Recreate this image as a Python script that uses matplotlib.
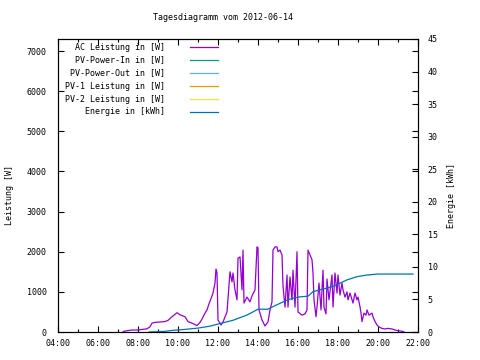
import matplotlib
matplotlib.use("Agg")
import matplotlib.pyplot as plt
from matplotlib.lines import Line2D
from matplotlib.ticker import FixedLocator

# AC power (hour of day, watts)
power_hours = [7.25, 7.30, 7.70, 8.00, 8.45, 8.60, 8.70, 8.85, 9.10, 9.35, 9.50, 9.70,
               9.95, 10.10, 10.35, 10.50, 10.70, 10.95, 11.10, 11.20, 11.35, 11.45, 11.55,
               11.70, 11.75, 11.85, 11.90, 11.95, 12.00, 12.15, 12.25, 12.45, 12.60, 12.70,
               12.75, 12.85, 12.95, 13.00, 13.10, 13.20, 13.25, 13.30, 13.45, 13.60, 13.70,
               13.85, 13.95, 14.00, 14.05, 14.20, 14.35, 14.50, 14.60, 14.70, 14.75, 14.85,
               14.95, 15.00, 15.10, 15.20, 15.25, 15.35, 15.45, 15.50, 15.60, 15.70, 15.75,
               15.85, 15.95, 16.00, 16.20, 16.35, 16.45, 16.50, 16.60, 16.70, 16.75, 16.80,
               16.90, 16.95, 17.05, 17.15, 17.25, 17.30, 17.40, 17.45, 17.55, 17.70, 17.75,
               17.85, 17.95, 18.00, 18.10, 18.20, 18.25, 18.35, 18.45, 18.50, 18.60, 18.75,
               18.85, 18.95, 19.00, 19.10, 19.15, 19.20, 19.30, 19.40, 19.45, 19.55, 19.70,
               19.75, 19.85, 19.95, 20.05, 20.20, 20.35, 20.50, 20.70, 20.85, 21.00, 21.20,
               21.30]
power_w = [0, 20, 50, 50, 80, 130, 220, 240, 250, 260, 290, 380,
           480, 430, 380, 260, 220, 160, 240, 320, 470, 550, 700,
           900, 970, 1220, 1570, 1470, 300, 175, 250, 500, 1500, 1250,
           1470, 1050, 800, 1840, 1870, 1050, 2040, 720, 870, 750, 900,
           1050, 2120, 2100, 550, 300, 150, 250, 550, 750, 2040, 2120,
           2120, 2000, 2040, 1920, 1150, 620, 1420, 620, 1370, 800, 1540,
           620, 2000, 500, 420, 450, 550, 2040, 1920, 1800, 1470, 800,
           380, 620, 1220, 550, 1540, 620, 450, 1320, 800, 1420, 620,
           1470, 970, 1420, 920, 1220, 1050, 870, 1000, 800, 970, 720,
           970, 800, 870, 630, 470, 260, 470, 420, 550, 420, 470,
           380, 260, 175, 125, 90, 75, 90, 75, 50, 30, 20,
           0]

# cumulative energy (hour of day, kWh)
energy_hours = [8.55, 9.35, 9.70, 10.35, 11.00, 11.60, 12.10, 12.75, 13.45, 14.00, 14.50,
                14.75, 15.10, 15.45, 15.75, 16.10, 16.50, 16.75, 17.25, 17.75, 18.10, 18.45,
                18.95, 19.45, 20.00, 21.75]
energy_kwh = [0.0, 0.1, 0.25, 0.4, 0.6, 0.9, 1.3, 1.8, 2.6, 3.5, 3.5,
              3.9, 4.4, 4.9, 5.2, 5.4, 5.5, 6.2, 6.6, 7.0, 7.5, 8.0,
              8.5, 8.75, 8.9, 8.9]

legend_labels = ["AC Leistung in [W]", "PV-Power-In in [W]", "PV-Power-Out in [W]",
                 "PV-1 Leistung in [W]", "PV-2 Leistung in [W]", "Energie in [kWh]"]
legend_colors = ["#9400d3", "#009e73", "#56b4e9", "#e69f00", "#f0e442", "#0072b2"]

x_ticks = [4, 6, 8, 10, 12, 14, 16, 18, 20, 22]
x_labels = ["04:00", "06:00", "08:00", "10:00", "12:00", "14:00", "16:00", "18:00",
            "20:00", "22:00"]
y_ticks = [0, 1000, 2000, 3000, 4000, 5000, 6000, 7000]
y2_ticks = [0, 5, 10, 15, 20, 25, 30, 35, 40, 45]

plt.rcParams['font.family'] = ['DejaVu Sans Mono']
plt.rcParams['font.size'] = 6

fig = plt.figure(figsize=(4.8, 3.6), dpi=100)
ax = fig.add_axes([58 / 480, 1 - 332 / 360, 360 / 480, 293 / 360])
ax2 = ax.twinx()

ax.plot(power_hours, power_w, color=legend_colors[0], lw=0.9)
# the PV series are empty for this day
for c in legend_colors[1:5]:
    ax.plot([], [], color=c, lw=0.9)
ax2.plot(energy_hours, energy_kwh, color=legend_colors[5], lw=0.9)

ax.set_xlim(4, 22)
ax.set_ylim(0, 7300)
ax2.set_ylim(0, 45)

ax.xaxis.set_major_locator(FixedLocator(x_ticks))
ax.set_xticklabels(x_labels)
ax.xaxis.set_minor_locator(FixedLocator(range(4, 23)))
ax.set_yticks(y_ticks)
ax.set_yticklabels([str(v) for v in y_ticks])
ax2.set_yticks(y2_ticks)
ax2.set_yticklabels([str(v) for v in y2_ticks])

ax.tick_params(axis='both', which='both', direction='in', top=True, right=True,
               length=4, width=0.8, labelsize=6)
ax.tick_params(axis='x', which='minor', length=2.5)
ax.tick_params(axis='y', pad=8)
ax.tick_params(axis='x', pad=5)
ax2.tick_params(axis='y', direction='in', length=4, width=0.8, labelsize=6, pad=7)

for a in (ax, ax2):
    for s in a.spines.values():
        s.set_linewidth(0.8)

# legend drawn in gnuplot style: text right aligned, sample line on the right
row_y = [47.3, 60, 73, 86, 99.3, 111.7]
for lab, c, py in zip(legend_labels, legend_colors, row_y):
    yy = (332 - py) / 293
    ax.text((165 - 58) / 360, yy, lab, transform=ax.transAxes, ha='right', va='center',
            fontsize=6)
    ax.add_line(Line2D([(190 - 58) / 360, (218 - 58) / 360], [yy, yy],
                       transform=ax.transAxes, color=c, lw=0.9))

fig.text(223 / 480, 1 - 18 / 360, "Tagesdiagramm vom 2012-06-14", ha='center',
         va='center', fontsize=6)
fig.text(10 / 480, 1 - 195 / 360, "Leistung [W]", rotation=90, ha='center',
         va='center', fontsize=6)
fig.text(452 / 480, 1 - 195 / 360, "Energie [kWh]", rotation=90, ha='center',
         va='center', fontsize=6)

fig.savefig("out.png", dpi=100)
